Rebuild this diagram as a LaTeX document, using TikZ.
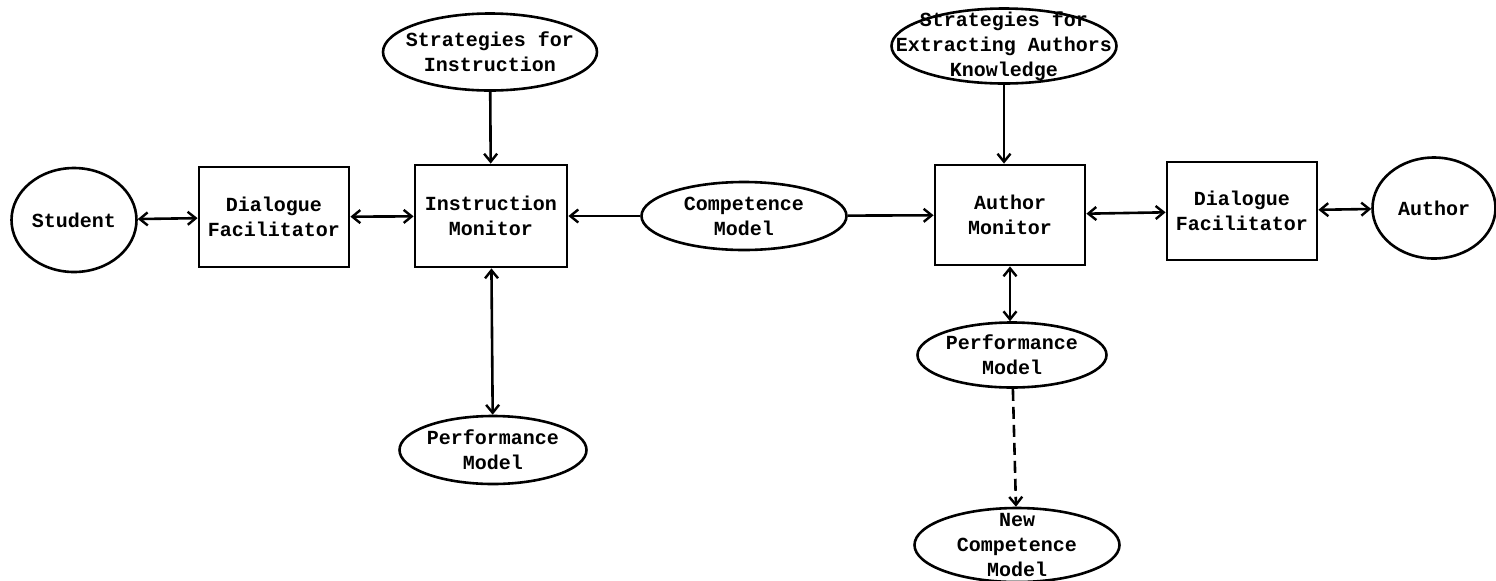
\documentclass[tikz,border=0pt]{standalone}
\usepackage{fontspec}
\setmainfont{Liberation Mono}
\usetikzlibrary{shapes.geometric,arrows.meta}

\begin{document}
\begin{tikzpicture}[x=0.5pt, y=-0.5pt,
  font=\bfseries\fontsize{10}{12.5}\selectfont,
  >={Straight Barb[length=4pt,width=6.5pt,line width=1.2pt]},
  box/.style={draw, line width=1.4pt, align=center, inner sep=0pt},
  blob/.style={draw, ellipse, line width=1.3pt, inner sep=0pt, label={[align=center]center:#1}},
  link/.style={line width=1.3pt}]
\useasboundingbox (0,0) rectangle (1496,580);
% left half
\node[blob=Student, minimum width=62.5pt, minimum height=52pt] (student) at (74,220) {};
\node[box, minimum width=75pt, minimum height=50pt] (dfl) at (274,217) {Dialogue\\Facilitator};
\node[box, minimum width=76pt, minimum height=51pt] (im) at (491,216) {Instruction\\Monitor};
\node[blob={Strategies for\\Instruction}, minimum width=107pt, minimum height=38.5pt] (si) at (490,52) {};
\node[blob={Performance\\Model}, minimum width=93.5pt, minimum height=34pt] (perfl) at (493,450) {};
\node[blob={Competence\\Model}, minimum width=102.5pt, minimum height=34pt] (comp) at (744,216) {};
% right half
\node[box, minimum width=75pt, minimum height=50pt] (am) at (1010,215) {Author\\Monitor};
\node[blob={Strategies for\\Extracting Authors\\Knowledge}, minimum width=112.5pt, minimum height=37.5pt] (se) at (1004,46) {};
\node[box, minimum width=75pt, minimum height=49pt] (dfr) at (1242,211) {Dialogue\\Facilitator};
\node[blob=Author, minimum width=61.5pt, minimum height=50.5pt] (author) at (1434,208) {};
\node[blob={Performance\\Model}, minimum width=94.5pt, minimum height=32.5pt] (perfr) at (1012,355) {};
\node[blob={New\\Competence\\Model}, minimum width=102.5pt, minimum height=37pt] (newcomp) at (1017,545) {};

\draw[link, <->] (student) -- (dfl);
\draw[link, <->] (dfl) -- (im);
\draw[link, ->] (si) -- (im);
\draw[link, <->] (im) -- (perfl);
\draw[link, ->] (comp) -- (im);
\draw[link, ->] (comp) -- (am);
\draw[link, ->] (se.south) -- (se.south |- am.north);
\draw[link, <->] (am) -- (dfr);
\draw[link, <->] (dfr) -- (author);
\draw[link, <->] (am.south) -- (am.south |- perfr.north);
\draw[link, ->, dash pattern=on 6pt off 3pt] (perfr) -- (newcomp);
\end{tikzpicture}
\end{document}
